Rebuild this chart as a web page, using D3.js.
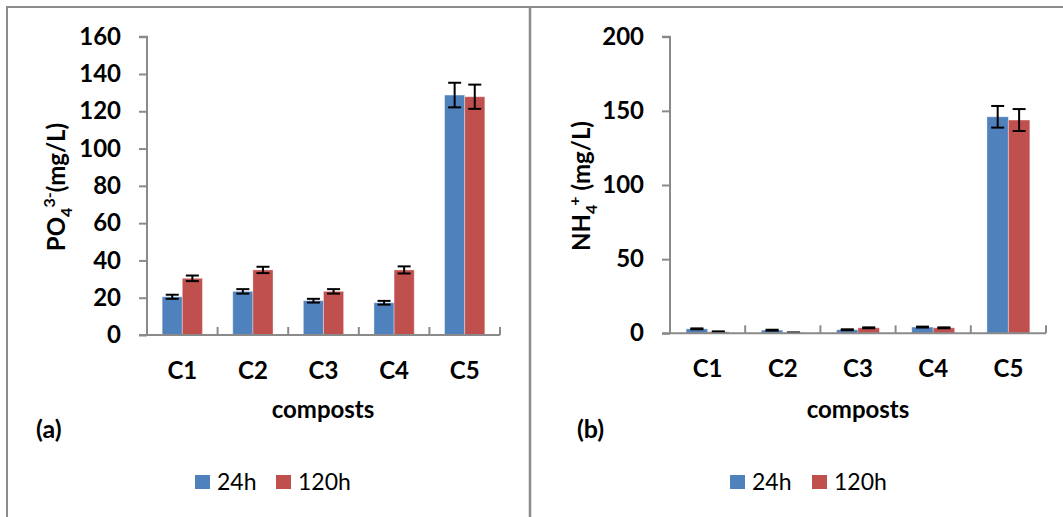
<!DOCTYPE html>
<html><head><meta charset="utf-8">
<script src="https://cdn.jsdelivr.net/npm/d3@7"></script>
<style>body{margin:0;background:#fff}svg{display:block}</style>
</head><body>
<svg id="c" width="1063" height="517"></svg>
<script>
const categories = ["C1","C2","C3","C4","C5"];
const seriesNames = ["24h","120h"];
const colors = ["#4F81BD","#C0504D"];
// (a) PO4^3- (mg/L)
const po4_24h  = [20.5, 23.4, 18.4, 17.3, 128.7];
const po4_120h = [30.4, 34.9, 23.4, 34.9, 127.8];
const po4_err24  = [1.1, 1.2, 1.0, 1.0, 6.6];
const po4_err120 = [1.5, 1.7, 1.2, 1.9, 6.5];
const po4_ticks = [0,20,40,60,80,100,120,140,160];
// (b) NH4+ (mg/L)
const nh4_24h  = [3.0, 2.1, 2.4, 4.2, 146.0];
const nh4_120h = [1.0, 0.4, 3.7, 3.7, 143.8];
const nh4_err24  = [0.3, 0.3, 0.3, 0.3, 7.3];
const nh4_err120 = [0.3, 0.2, 0.3, 0.3, 7.4];
const nh4_ticks = [0,50,100,150,200];

const svg = d3.select("#c");
const FONT = "Lato, 'Open Sans', sans-serif";
const axisCol = "#8a8a8a";

// panel borders
svg.append("line").attr("x1",7).attr("x2",1063).attr("y1",7).attr("y2",7).attr("stroke","#8c8c8c").attr("stroke-width",2);
svg.append("line").attr("x1",7).attr("x2",7).attr("y1",6).attr("y2",517).attr("stroke","#8c8c8c").attr("stroke-width",2);
svg.append("line").attr("x1",530).attr("x2",530).attr("y1",6).attr("y2",517).attr("stroke","#8c8c8c").attr("stroke-width",2.5);

function panel(opt){
  const g = svg.append("g");
  const x = d3.scaleBand().domain(categories).range([opt.x0, opt.x1]).padding(0);
  const y = d3.scaleLinear().domain([0, opt.ymax]).range([opt.yb, opt.yt]);
  const bw = x.bandwidth()*0.285;
  const vals = [opt.s1, opt.s2], errs = [opt.e1, opt.e2];

  // bars
  vals.forEach((arr,si)=>{
    g.selectAll(null).data(arr).enter().append("rect")
      .attr("x",(d,i)=>x(categories[i]) + x.bandwidth()/2 - bw + si*bw)
      .attr("y",d=>y(d)).attr("width",bw).attr("height",d=>y(0)-y(d))
      .attr("fill",colors[si]).attr("stroke","rgba(255,255,255,0.35)").attr("stroke-width",1);
  });
  // error bars
  vals.forEach((arr,si)=>{
    arr.forEach((d,i)=>{
      const cx = x(categories[i]) + x.bandwidth()/2 - bw + si*bw + bw/2;
      const e = errs[si][i];
      const c = 6.5;
      g.append("line").attr("x1",cx).attr("x2",cx).attr("y1",y(d+e)).attr("y2",y(d-e)).attr("stroke","#000").attr("stroke-width",2);
      g.append("line").attr("x1",cx-c).attr("x2",cx+c).attr("y1",y(d+e)).attr("y2",y(d+e)).attr("stroke","#000").attr("stroke-width",2);
      g.append("line").attr("x1",cx-c).attr("x2",cx+c).attr("y1",y(d-e)).attr("y2",y(d-e)).attr("stroke","#000").attr("stroke-width",2);
    });
  });

  // y axis
  const ya = g.append("g").attr("transform",`translate(${opt.x0},0)`)
    .call(d3.axisLeft(y).tickValues(opt.ticks).tickSize(8).tickPadding(18).tickFormat(d3.format("d")));
  ya.select(".domain").attr("stroke",axisCol).attr("stroke-width",2).attr("d",`M-8,${opt.yt}H0V${opt.yb}`);
  ya.selectAll(".tick line").attr("stroke",axisCol).attr("stroke-width",2);
  ya.selectAll(".tick text").attr("font-family",FONT).attr("font-weight","bold").attr("font-size",24).attr("fill","#000");

  // x axis
  const xa = g.append("g").attr("transform",`translate(0,${opt.yb})`);
  xa.append("line").attr("x1",opt.x0-8).attr("x2",opt.x1).attr("y1",0).attr("y2",0).attr("stroke",axisCol).attr("stroke-width",2);
  xa.selectAll(null).data(categories).enter().append("text")
    .attr("x",d=>x(d)+x.bandwidth()/2).attr("y",44).attr("text-anchor","middle")
    .attr("font-family",FONT).attr("font-weight","bold").attr("font-size",24).text(d=>d);
  xa.selectAll(null).data(categories).enter().append("line")
    .attr("x1",d=>x(d)+x.bandwidth()).attr("x2",d=>x(d)+x.bandwidth()).attr("y1",0).attr("y2",-8)
    .attr("stroke",axisCol).attr("stroke-width",2);

  // x title
  g.append("text").attr("x",opt.xtx).attr("y",418).attr("text-anchor","middle")
    .attr("font-family",FONT).attr("font-weight","bold").attr("font-size",24).text("composts");
  // panel label
  g.append("text").attr("x",opt.lblx).attr("y",438)
    .attr("font-family",FONT).attr("font-weight","bold").attr("font-size",25).text(opt.lbl);

  // y title
  const yt = g.append("text").attr("transform",`translate(${opt.ytx},${opt.yty}) rotate(-90)`)
    .attr("text-anchor","middle").attr("font-family",FONT).attr("font-weight","bold").attr("font-size",24);
  opt.title(yt);

  // legend
  const lg = g.append("g");
  seriesNames.forEach((n,i)=>{
    lg.append("rect").attr("x",opt.legx[i]).attr("y",475).attr("width",15).attr("height",14).attr("fill",colors[i]);
    lg.append("text").attr("x",opt.legx[i]+22).attr("y",490).attr("font-family",FONT).attr("font-size",23).text(n);
  });
}

panel({x0:147, x1:500, yb:335, yt:36.7, ymax:160, ticks:po4_ticks,
  s1:po4_24h, s2:po4_120h, e1:po4_err24, e2:po4_err120,
  xtx:323, lblx:36, lbl:"(a)", ytx:65, yty:187, legx:[195,276],
  title: t=>{
    t.append("tspan").text("PO");
    t.append("tspan").attr("font-size",16).attr("dy",7).text("4");
    t.append("tspan").attr("font-size",16).attr("dy",-17).text("3-");
    t.append("tspan").attr("dy",10).text("(mg/L)");
  }});

panel({x0:670, x1:1046, yb:333.3, yt:36.7, ymax:200, ticks:nh4_ticks,
  s1:nh4_24h, s2:nh4_120h, e1:nh4_err24, e2:nh4_err120,
  xtx:858, lblx:577, lbl:"(b)", ytx:590, yty:186, legx:[730,812],
  title: t=>{
    t.append("tspan").text("NH");
    t.append("tspan").attr("font-size",16).attr("dy",7).text("4");
    t.append("tspan").attr("font-size",16).attr("dy",-17).attr("dx",-1).text("+");
    t.append("tspan").attr("dy",10).text(" (mg/L)");
  }});
</script>
</body></html>
